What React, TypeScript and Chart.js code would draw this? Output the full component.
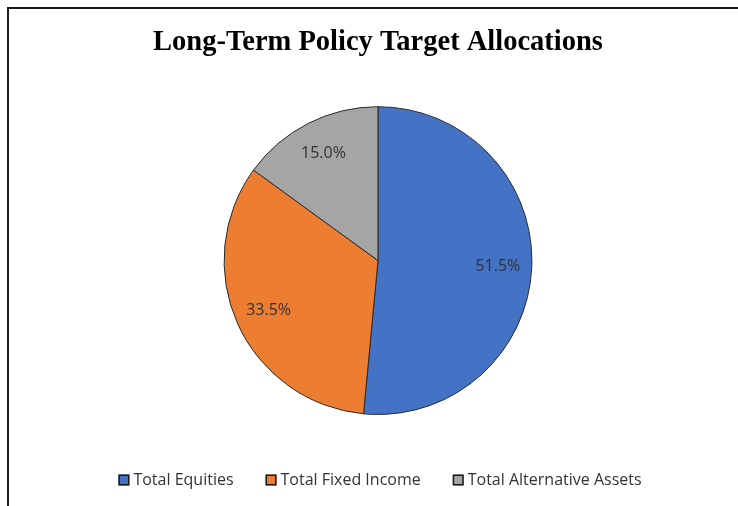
import React, { useEffect, useRef } from "react";
import { Chart, registerables } from "chart.js";

Chart.register(...registerables);

const TITLE = "Long-Term Policy Target Allocations";
const categories = ["Total Equities", "Total Fixed Income", "Total Alternative Assets"];
const values = [51.5, 33.5, 15.0];
const colors = ["#4472C4", "#ED7D31", "#A5A5A5"];

const TEXT_COLOR = "#333333";
const TEXT_FONT = '16px "Open Sans"';

const framePlugin = {
  id: "frame",
  beforeDraw(chart: any) {
    const ctx = chart.ctx;
    ctx.save();
    ctx.fillStyle = "#ffffff";
    ctx.fillRect(0, 0, chart.width, chart.height);
    ctx.fillStyle = "#1a1a1a";
    ctx.fillRect(7, 7, chart.width - 7, 2);
    ctx.fillRect(7, 7, 2, chart.height - 7);
    ctx.restore();
  },
};

const labelPlugin = {
  id: "sliceLabels",
  afterDatasetsDraw(chart: any) {
    const ctx = chart.ctx;
    const meta = chart.getDatasetMeta(0);
    const data = chart.data.datasets[0].data as number[];
    ctx.save();
    ctx.font = TEXT_FONT;
    ctx.fillStyle = TEXT_COLOR;
    ctx.textAlign = "center";
    ctx.textBaseline = "middle";
    meta.data.forEach((arc: any, i: number) => {
      const p = arc.getProps(["x", "y", "startAngle", "endAngle", "outerRadius"], true);
      const mid = (p.startAngle + p.endAngle) / 2;
      const r = p.outerRadius * 0.78;
      ctx.fillText(data[i].toFixed(1) + "%", p.x + Math.cos(mid) * r, p.y + Math.sin(mid) * r);
    });
    ctx.restore();
  },
};

const legendPlugin = {
  id: "customLegend",
  afterDraw(chart: any) {
    const ctx = chart.ctx;
    const labels = chart.data.labels as string[];
    const bg = chart.data.datasets[0].backgroundColor as string[];
    const box = 11;
    const boxGap = 4;
    const itemGap = 32;
    ctx.save();
    ctx.font = TEXT_FONT;
    const widths = labels.map((l) => box + boxGap + ctx.measureText(l).width);
    const total = widths.reduce((a, b) => a + b, 0) + itemGap * (labels.length - 1);
    const cx = 380;
    const cy = 480;
    let x = cx - total / 2;
    labels.forEach((l, i) => {
      ctx.fillStyle = bg[i];
      ctx.fillRect(x, cy - box / 2, box, box);
      ctx.strokeStyle = "#1a1a1a";
      ctx.lineWidth = 1.5;
      ctx.strokeRect(x + 0.75, cy - box / 2 + 0.75, box - 1.5, box - 1.5);
      ctx.fillStyle = TEXT_COLOR;
      ctx.textAlign = "left";
      ctx.textBaseline = "middle";
      ctx.fillText(l, x + box + boxGap, cy);
      x += widths[i] + itemGap;
    });
    ctx.restore();
  },
};

export default function App() {
  const ref = useRef<HTMLCanvasElement | null>(null);
  useEffect(() => {
    if (!ref.current) return;
    const chart = new Chart(ref.current, {
      type: "pie",
      data: {
        labels: categories,
        datasets: [
          {
            data: values,
            backgroundColor: colors,
            borderColor: "#2b2b2b",
            borderWidth: 1,
            hoverOffset: 0,
          },
        ],
      },
      options: {
        animation: false,
        responsive: false,
        devicePixelRatio: 1,
        layout: { padding: { left: 18, right: 0, top: 0, bottom: 91 } },
        plugins: {
          legend: { display: false },
          tooltip: { enabled: false },
          title: {
            display: true,
            text: TITLE,
            color: "#000000",
            font: { family: '"Liberation Serif"', size: 28.5, weight: "bold" },
            padding: { top: 26, bottom: 46 },
          },
        },
      },
      plugins: [framePlugin, labelPlugin, legendPlugin],
    });
    return () => chart.destroy();
  }, []);
  return (
    <div style={{ position: "absolute", left: 0, top: 0, width: 738, height: 506 }}>
      <canvas ref={ref} width={738} height={506} style={{ display: "block" }} />
    </div>
  );
}
